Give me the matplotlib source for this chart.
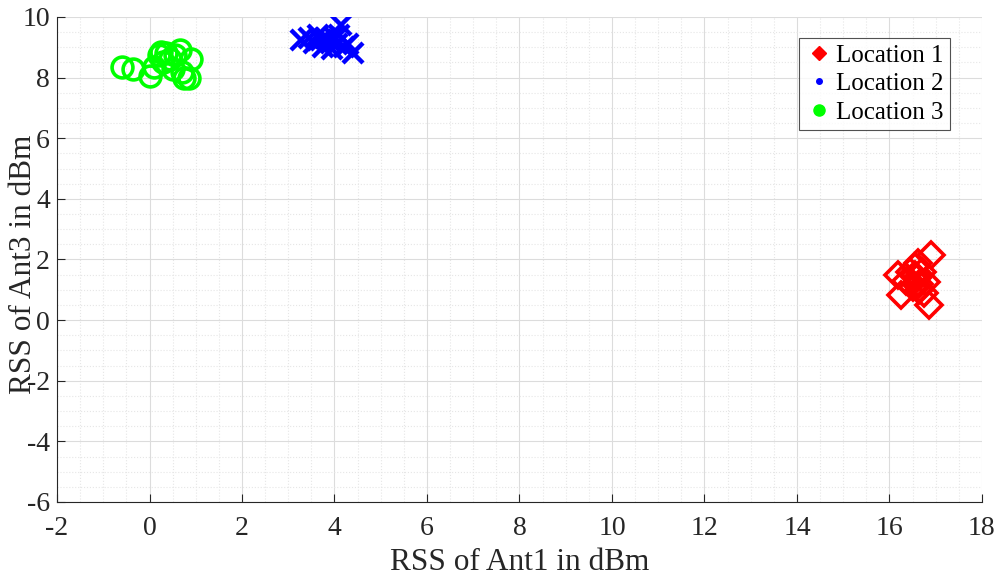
import matplotlib
matplotlib.use("Agg")
import matplotlib.pyplot as plt
from matplotlib.lines import Line2D
from matplotlib.ticker import MultipleLocator

plt.rcParams['font.family'] = ['Liberation Serif', 'DejaVu Serif']
plt.rcParams['axes.unicode_minus'] = False

loc1_x = [16.19, 16.25, 16.35, 16.45, 16.5, 16.55, 16.6, 16.62, 16.65, 16.7, 16.75, 16.8, 16.86, 16.9, 16.55, 16.65]
loc1_y = [1.49, 0.83, 1.3, 1.6, 1.1, 1.75, 1.4, 1.9, 1.2, 1.6, 0.9, 1.25, 0.5, 2.15, 1.5, 1.0]

loc2_x = [3.27, 3.45, 3.55, 3.65, 3.75, 3.8, 3.9, 3.95, 4.0, 4.05, 4.1, 4.13, 4.2, 4.3, 4.39, 3.7]
loc2_y = [9.24, 9.3, 9.15, 9.4, 9.0, 9.3, 9.2, 8.95, 9.35, 9.1, 9.4, 9.74, 9.0, 9.1, 8.81, 9.25]

loc3_x = [-0.6, -0.35, 0.02, 0.1, 0.2, 0.25, 0.3, 0.35, 0.45, 0.5, 0.55, 0.65, 0.7, 0.75, 0.85, 0.9]
loc3_y = [8.35, 8.3, 8.05, 8.35, 8.75, 8.85, 8.5, 8.8, 8.6, 8.3, 8.75, 8.9, 8.2, 8.0, 8.0, 8.6]

fig = plt.figure(figsize=(10.04, 5.82), dpi=100)
ax = fig.add_axes([0.0568, 0.1375, 0.9212, 0.8333])

ax.plot(loc1_x, loc1_y, linestyle='none', marker='D', markersize=13, markerfacecolor='none',
        markeredgecolor='#ff0000', markeredgewidth=2.6)
ax.plot(loc2_x, loc2_y, linestyle='none', marker='x', markersize=14, color='#0000ff',
        markeredgewidth=3.2)
ax.plot(loc3_x, loc3_y, linestyle='none', marker='o', markersize=15, markerfacecolor='none',
        markeredgecolor='#00ff00', markeredgewidth=2.6)

ax.set_xlim(-2, 18)
ax.set_ylim(-6, 10)
ax.xaxis.set_major_locator(MultipleLocator(2))
ax.yaxis.set_major_locator(MultipleLocator(2))
ax.xaxis.set_minor_locator(MultipleLocator(0.5))
ax.yaxis.set_minor_locator(MultipleLocator(0.5))
ax.grid(which='major', color='#dcdcdc', linewidth=0.8, linestyle='-')
ax.grid(which='minor', color='#e6e6e6', linewidth=0.8, linestyle=':')
ax.set_axisbelow(True)
ax.spines['top'].set_visible(False)
ax.spines['right'].set_visible(False)
for s in ('left', 'bottom'):
    ax.spines[s].set_color('#262626')
ax.tick_params(which='both', direction='in', labelsize=20, color='#262626', labelcolor='#262626')
ax.tick_params(which='major', length=6, pad=5)
ax.tick_params(axis='x', which='major', pad=10)
ax.tick_params(which='minor', length=0)

ax.set_xlabel('RSS of Ant1 in dBm', fontsize=22.5, color='#262626', labelpad=5)
ax.set_ylabel('RSS of Ant3 in dBm', fontsize=22.5, color='#262626')
ax.yaxis.label.set_va('center')
ax.yaxis.set_label_coords(-0.036, 0.49)

handles = [
    Line2D([], [], linestyle='none', marker='D', markersize=7, color='#ff0000'),
    Line2D([], [], linestyle='none', marker='o', markersize=4, color='#0000ff'),
    Line2D([], [], linestyle='none', marker='o', markersize=8, color='#00ff00'),
]
leg = ax.legend(handles, ['Location 1', 'Location 2', 'Location 3'], loc='upper right',
                bbox_to_anchor=(0.9654, 0.9567), fontsize=18, frameon=True, fancybox=False,
                edgecolor='#262626', handlelength=1.1, handletextpad=0.15, borderpad=0.25,
                labelspacing=0.24, borderaxespad=0)
leg.get_frame().set_linewidth(0.8)

fig.savefig('out.png', dpi=100)
